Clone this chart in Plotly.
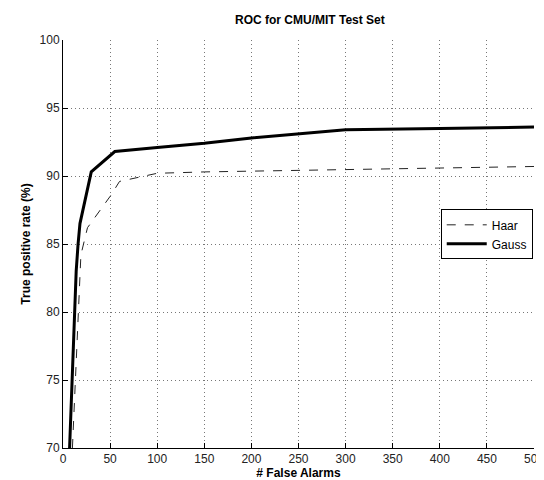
import plotly.graph_objects as go

# ROC points
haar_fa = [10, 12, 15, 17, 19, 26, 40, 50, 60, 80, 100, 150, 250, 300, 400, 500]
haar_tpr = [70, 73, 77, 80, 84.2, 86.2, 87.5, 88.5, 89.6, 89.9, 90.2, 90.3, 90.4, 90.5, 90.6, 90.7]

gauss_fa = [7, 8, 10, 12, 14, 16, 18, 30, 55, 100, 150, 200, 250, 300, 400, 500]
gauss_tpr = [70, 72, 75, 79, 83, 85, 86.5, 90.3, 91.8, 92.1, 92.4, 92.8, 93.1, 93.4, 93.5, 93.6]

x_ticks = [0, 50, 100, 150, 200, 250, 300, 350, 400, 450, 500]
y_ticks = [70, 75, 80, 85, 90, 95, 100]

fig = go.Figure()
fig.add_trace(go.Scatter(x=haar_fa, y=haar_tpr, mode="lines", name="Haar",
                         line=dict(color="#222", width=1, dash="dash")))
fig.add_trace(go.Scatter(x=gauss_fa, y=gauss_tpr, mode="lines", name="Gauss",
                         line=dict(color="black", width=3)))

axis_common = dict(showline=True, linecolor="black", linewidth=1, mirror=False,
                   ticks="inside", ticklen=5, tickcolor="black",
                   showgrid=True, gridcolor="#777", griddash="1px,3px", gridwidth=1,
                   zeroline=False, tickfont=dict(size=12, color="#222"),
                   ticklabeloverflow="allow")

fig.update_xaxes(range=[0, 500], tickvals=x_ticks,
                 title=dict(text="<b># False Alarms</b>", font=dict(size=12), standoff=2),
                 **axis_common)
fig.update_yaxes(range=[70, 100], tickvals=y_ticks,
                 title=dict(text="<b>True positive rate (%)</b>", font=dict(size=12), standoff=6),
                 **axis_common)

fig.update_layout(
    width=544, height=480,
    margin=dict(l=55, r=8, t=32, b=40),
    paper_bgcolor="white", plot_bgcolor="white",
    font=dict(family="Liberation Sans, Arial, sans-serif", color="black"),
    title=dict(text="<b>ROC for CMU/MIT Test Set</b>", x=0.555, xanchor="center",
               y=0.975, yanchor="middle", font=dict(size=12)),
    legend=dict(x=0.802, y=0.585, xanchor="left", yanchor="top",
                bordercolor="black", borderwidth=1, bgcolor="white",
                font=dict(size=12), tracegroupgap=2, itemwidth=40),
    showlegend=True,
)

fig.write_html("out.html")
